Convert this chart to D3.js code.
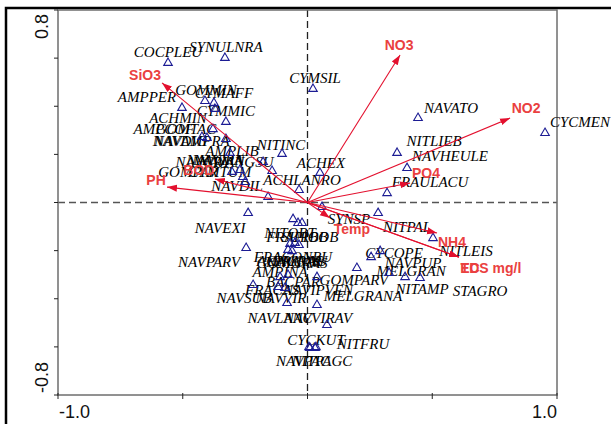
<!DOCTYPE html>
<html>
<head>
  <meta charset="utf-8">
  <title>CCA biplot</title>
  <script src="https://d3js.org/d3.v7.min.js"></script>
  <style>
    body { margin: 0; background: #fff; }
  </style>
</head>
<body>

<svg></svg>

<script>

// species scores (axis 1, axis 2)
var speciesNames = ['COCPLEU','SYNULNRA','CYMSIL','GOMMIN','CYMAFF','AMPPER','CYMMIC','ACHMIN',
  'AMPCOF','GOMTAC','NAVAMPRA','NAVDIG','AMPLIB','NAVCRY','NAVGRA','NAVANGSU','CYMTUM','GOMPAR',
  'NAVLIN','NITINC','ACHEX','ACHLANRO','NAVDIL',
  'NAVATO','CYCMEN','NITLIEB','NAVHEULE','FRAULACU','SYNSP','NITPAL','NITLEIS','CYCOPE','NAVPUP',
  'MELGRAN','GOMPARV','NITAMP','STAGRO','BACPAR','MELGRANA','NAVVIRAV','NAVLANC','CYCKUT','NITFRU',
  'NAVPAC','NITPAGC',
  'NAVEXI','NAVPARV','NITOBT','FRAPIOB','SURBOB','FRACONBU','GOMGRAS','ACHCRAS','NAVCAS','FRAVAU',
  'AMPINA','FRACAS','NAVIPVEN','NAVSUB','NAVVIR']

var speciesAx1 = [-0.559,-0.331,0.022,-0.411,-0.375,-0.503,-0.371,-0.327,
  -0.379,-0.423,-0.327,-0.403,-0.311,-0.303,-0.271,-0.178,-0.259,-0.250,
  -0.142,-0.102,0.050,-0.034,-0.158,
  0.443,0.952,0.359,0.399,0.319,0.058,0.283,0.503,0.291,0.255,
  0.327,0.198,0.391,0.451,0.038,0.038,0.078,-0.082,0.006,0.034,
  0.010,0.030,
  -0.238,-0.246,-0.058,-0.038,-0.022,-0.070,-0.050,-0.034,-0.078,-0.062,
  -0.110,-0.218,-0.078,-0.118,-0.090]

var speciesAx2 = [0.580,0.601,0.472,0.422,0.414,0.393,0.389,0.335,
  0.305,0.272,0.264,0.268,0.206,0.127,0.135,0.168,0.106,0.085,
  0.131,0.202,0.123,0.052,0.023,
  0.351,0.289,0.206,0.143,0.039,-0.019,-0.044,-0.148,-0.202,-0.227,
  -0.293,-0.272,-0.310,-0.314,-0.310,-0.426,-0.509,-0.418,-0.601,-0.601,
  -0.605,-0.605,
  -0.044,-0.189,-0.069,-0.085,-0.085,-0.172,-0.168,-0.177,-0.197,-0.202,
  -0.310,-0.343,-0.301,-0.351,-0.355]

// environmental variables (arrow tips)
var envNames = ['SiO3','PH','BOD','NO3','NO2','PO4','Temp','NH4','EC','TDS mg/l']
var envAx1 = [-0.583,-0.563,-0.371,0.371,0.812,0.411,0.090,0.519,0.607,0.607]
var envAx2 = [0.497,0.064,0.098,0.613,0.351,0.081,-0.064,-0.127,-0.227,-0.227]

var xTicks = [-1.0,-0.5,0,0.5,1.0]
var yTicks = [-0.8,-0.6,-0.4,-0.2,0,0.2,0.4,0.6,0.8]
var xTickLabels = ['-1.0','1.0']
var yTickLabels = ['-0.8','0.8']

// label placement relative to the triangle (px), CANOCO-style hand moved labels
var labelOffset = {
  COCPLEU:[0,-11], SYNULNRA:[1,-11], CYMSIL:[2,-11], GOMMIN:[1,-11], CYMAFF:[10,-10],
  AMPPER:[-35,-11], CYMMIC:[11,2], ACHMIN:[-48,-4], AMPCOF:[-49,0], GOMTAC:[-16,-8],
  NAVAMPRA:[-34,2], NAVDIG:[-27,3], AMPLIB:[2,-2], NAVCRY:[-29,-10], NAVGRA:[-25,-10],
  NAVANGSU:[-27,0], CYMTUM:[-23,-5], GOMPAR:[-57,-10], NAVLIN:[-53,-11], NITINC:[-1,-9],
  ACHEX:[1,-10], ACHLANRO:[3,-10], NAVDIL:[-31,-11],
  NAVATO:[33,-10], CYCMEN:[35,-11], NITLIEB:[37,-12], NAVHEULE:[43,-12], FRAULACU:[43,-11],
  SYNSP:[27,12], NITPAL:[29,14], NITLEIS:[33,13], CYCOPE:[14,2], NAVPUP:[42,6],
  MELGRAN:[22,-2], GOMPARV:[-3,12], NITAMP:[17,12], STAGRO:[60,13], BACPAR:[-24,5],
  MELGRANA:[46,-9], NAVVIRAV:[-9,-7], NAVLANC:[-7,15], CYCKUT:[7,-7], NITFRU:[47,-3],
  NAVPAC:[-7,13], NITPAGC:[7,13],
  NAVEXI:[-28,15], NAVPARV:[-37,14], NITOBT:[-3,14], FRAPIOB:[-1,14], SURBOB:[8,14],
  FRACONBU:[3,13], GOMGRAS:[-3,20], ACHCRAS:[-9,16], NAVCAS:[5,12], FRAVAU:[8,10],
  AMPINA:[0,-5], FRACAS:[19,5], NAVIPVEN:[30,15], NAVSUB:[-34,11], NAVVIR:[-4,10]
}
var envLabelOffset = {
  'SiO3':[-17,-8], 'PH':[-11,-7], 'BOD':[-16,-9], 'NO3':[-1,-10], 'NO2':[16,-10],
  'PO4':[16,-10], 'Temp':[22,11], 'NH4':[15,9], 'EC':[11,11], 'TDS mg/l':[32,11]
}

var width = 611, height = 424
var svg = d3.select('svg').attr('width', width).attr('height', height)

var x = d3.scaleLinear().domain([-1, 1]).range([58, 557])
var y = d3.scaleLinear().domain([-0.8, 0.8]).range([395, 10])

var red = '#e3102e', redText = '#ea4040', frame = '#6e6e6e'

// outer border of the figure
svg.append('rect')
  .attr('x', 6).attr('y', 8).attr('width', 640).attr('height', 440)
  .attr('fill', 'none').attr('stroke', '#000').attr('stroke-width', 2.5)

// zero lines
svg.append('line')
  .attr('x1', x(-1)).attr('x2', x(1)).attr('y1', y(0)).attr('y2', y(0))
  .attr('stroke', '#555').attr('stroke-width', 1.3).attr('stroke-dasharray', '7,4')
svg.append('line')
  .attr('x1', x(0)).attr('x2', x(0)).attr('y1', y(0.8)).attr('y2', y(-0.8))
  .attr('stroke', '#222').attr('stroke-width', 1.3).attr('stroke-dasharray', '7,4')

// plot frame
svg.append('rect')
  .attr('x', x(-1)).attr('y', y(0.8))
  .attr('width', x(1) - x(-1)).attr('height', y(-0.8) - y(0.8))
  .attr('fill', 'none').attr('stroke', frame).attr('stroke-width', 1.5)

// ticks
svg.selectAll('.xtick').data(xTicks).enter().append('line')
  .attr('x1', (d) => x(d)).attr('x2', (d) => x(d))
  .attr('y1', y(-0.8) - 2).attr('y2', y(-0.8) + 4)
  .attr('stroke', '#222').attr('stroke-width', 1)
svg.selectAll('.ytick').data(yTicks).enter().append('line')
  .attr('x1', x(-1) - 4).attr('x2', x(-1))
  .attr('y1', (d) => y(d)).attr('y2', (d) => y(d))
  .attr('stroke', '#222').attr('stroke-width', 1)

// tick labels
svg.append('text').text(xTickLabels[0])
  .attr('x', x(-1) + 1).attr('y', 418)
  .style('font', '18px Arial, "Liberation Sans", sans-serif').attr('fill', '#111')
svg.append('text').text(xTickLabels[1])
  .attr('x', x(1)).attr('y', 418).attr('text-anchor', 'end')
  .style('font', '18px Arial, "Liberation Sans", sans-serif').attr('fill', '#111')
svg.append('text').text(yTickLabels[1])
  .attr('transform', 'translate(48,' + (y(0.8) + 4) + ') rotate(-90)')
  .attr('text-anchor', 'end')
  .style('font', '18px Arial, "Liberation Sans", sans-serif').attr('fill', '#111')
svg.append('text').text(yTickLabels[0])
  .attr('transform', 'translate(48,' + (y(-0.8) - 2) + ') rotate(-90)')
  .attr('text-anchor', 'start')
  .style('font', '18px Arial, "Liberation Sans", sans-serif').attr('fill', '#111')

// species labels
var species = speciesNames.map((n, i) => ({name: n, a1: speciesAx1[i], a2: speciesAx2[i]}))

svg.selectAll('.spLabel').data(species).enter().append('text')
  .classed('spLabel', true)
  .text((d) => d.name)
  .attr('x', (d) => x(d.a1) + (labelOffset[d.name] || [0, -10])[0])
  .attr('y', (d) => y(d.a2) + (labelOffset[d.name] || [0, -10])[1] + 5)
  .attr('text-anchor', 'middle')
  .style('font', 'italic 15px "Liberation Serif", "Times New Roman", serif')
  .attr('fill', '#000')

// species triangles
svg.selectAll('.sp').data(species).enter().append('path')
  .classed('sp', true)
  .attr('d', d3.symbol(d3.symbolTriangle).size(32))
  .attr('transform', (d) => 'translate(' + x(d.a1) + ',' + y(d.a2) + ')')
  .attr('fill', 'none').attr('stroke', '#1c1c94').attr('stroke-width', 1.1)

// environmental arrows
var env = envNames.map((n, i) => ({name: n, a1: envAx1[i], a2: envAx2[i]}))

svg.append('defs').append('marker')
  .attr('id', 'head').attr('viewBox', '0 0 10 10')
  .attr('refX', 10).attr('refY', 5)
  .attr('markerWidth', 10).attr('markerHeight', 10)
  .attr('markerUnits', 'userSpaceOnUse')
  .attr('orient', 'auto')
  .append('path').attr('d', 'M0,1.5 L10,5 L0,8.5 Z').attr('fill', red)

svg.selectAll('.arrow').data(env).enter().append('line')
  .classed('arrow', true)
  .attr('x1', x(0)).attr('y1', y(0))
  .attr('x2', (d) => x(d.a1)).attr('y2', (d) => y(d.a2))
  .attr('stroke', red).attr('stroke-width', 1.1)
  .attr('marker-end', 'url(#head)')

svg.selectAll('.envLabel').data(env).enter().append('text')
  .classed('envLabel', true)
  .text((d) => d.name)
  .attr('x', (d) => x(d.a1) + envLabelOffset[d.name][0])
  .attr('y', (d) => y(d.a2) + envLabelOffset[d.name][1] + 5)
  .attr('text-anchor', 'middle')
  .style('font', 'bold 14px Arial, "Liberation Sans", sans-serif')
  .attr('fill', redText)

</script>

</body>
</html>
